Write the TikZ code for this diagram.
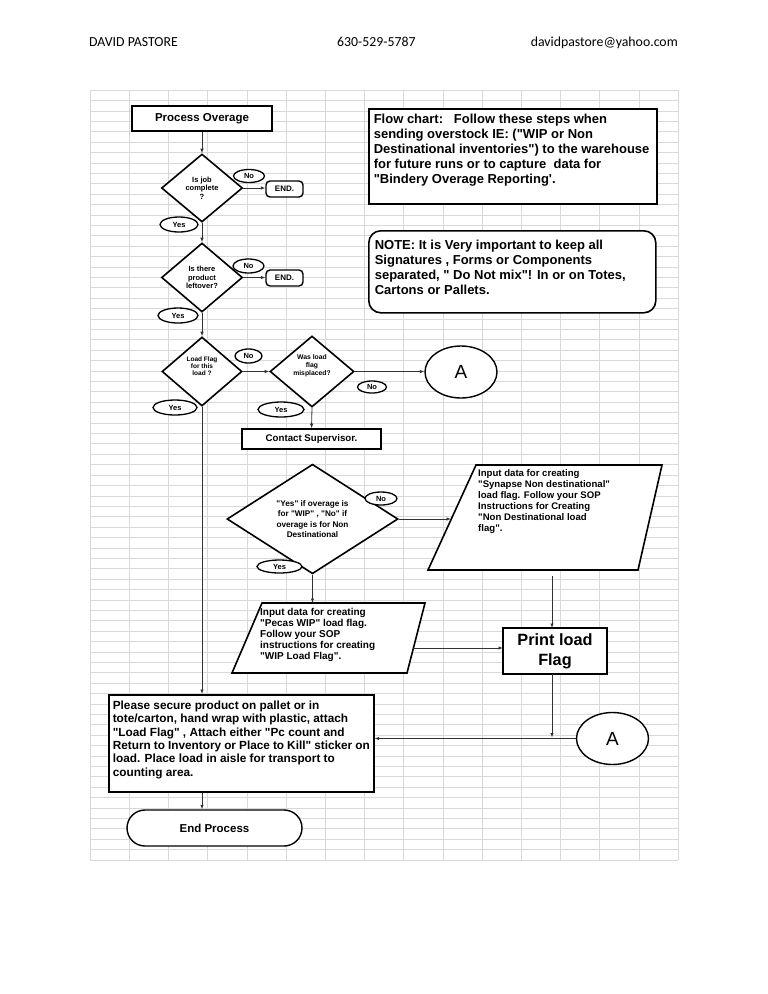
\documentclass[tikz,border=0pt]{standalone}
\usepackage{fontspec}
\setmainfont{Liberation Sans}[Ligatures=TeXOff]
\newfontfamily\hdrfont{Carlito}
\usetikzlibrary{arrows.meta,shapes.geometric}
\tikzset{
  gridc/.style={draw=black!15, line width=0.6pt},
  box/.style={draw, line width=1.6pt, fill=white, inner sep=0pt, rectangle},
  dia/.style={draw, line width=1.6pt, fill=white, diamond, inner sep=0pt, align=center, font=\bfseries\fontsize{7.5}{8.5}\selectfont},
  lbl/.style={draw, line width=1.3pt, fill=white, ellipse, inner sep=0pt, font=\bfseries\fontsize{7.5}{8}\selectfont},
  bigA/.style={draw, line width=1.4pt, fill=white, ellipse, inner sep=0pt, minimum width=72pt, minimum height=52pt, font=\fontsize{19}{19}\selectfont},
  endb/.style={draw, line width=1.4pt, fill=white, rounded corners=4pt, inner sep=0pt, minimum width=37pt, minimum height=16pt, font=\bfseries\fontsize{8}{9}\selectfont},
  conn/.style={draw=black!80, line width=0.8pt, -{Latex[length=4.5pt,width=3.5pt]}},
  hdr/.style={font=\hdrfont\fontsize{13.8}{15}\selectfont, inner sep=0pt, anchor=base west}
}
\begin{document}
\begin{tikzpicture}[x=1pt,y=-1pt]
\useasboundingbox (0,0) rectangle (768,994);
\fill[white] (0,0) rectangle (768,994);
% header
\node[hdr] (h1) at (89,46.5) {DAVID PASTORE};
\node[hdr] (h2) at (337,46.5) {630-529-5787};
\node[hdr, anchor=base east] (h3) at (678,46.5) {davidpastore@yahoo.com};
% spreadsheet grid
\foreach \i in {0,...,15} \draw[gridc] (90+\i*39.2,90) -- (90+\i*39.2,860);
\foreach \j in {0,...,74} \draw[gridc] (90,90+\j*10.405) -- (678,90+\j*10.405);

% top box
\node[box, minimum width=140pt, minimum height=25pt, font=\bfseries\fontsize{11.5}{12}\selectfont] (start) at (202,118.5) {\raisebox{2pt}{Process Overage}};

% info boxes
\node[box, anchor=north west, minimum width=288pt, minimum height=95pt, inner sep=5pt, font=\bfseries\fontsize{13}{15}\selectfont] (info) at (368,108)
 {\parbox[c][85pt][t]{278pt}{\raggedright Flow chart:\ \ \ Follow these steps when\\ sending overstock IE: ("WIP or Non\\ Destinational inventories") to the warehouse\\ for future runs or to capture\ \ data for\\ "Bindery Overage Reporting'.}};
\node[box, rounded corners=12pt, anchor=north west, minimum width=287pt, minimum height=82pt, inner sep=6pt, font=\bfseries\fontsize{13}{15}\selectfont] (note) at (368,230)
 {\parbox[c][70pt][t]{275pt}{\raggedright\vspace*{3pt}NOTE: It is Very important to keep all\\ Signatures , Forms or Components\\ separated, " Do Not mix"! In or on Totes,\\ Cartons or Pallets.}};

% decision 1
\node[dia, minimum width=81pt, minimum height=68pt] (d1) at (202,188) {Is job\\complete\\?};
\node[lbl, minimum width=31pt, minimum height=13pt] (no1) at (249,176) {No};
\node[endb] (end1) at (284.5,189) {END.};
\node[lbl, minimum width=38pt, minimum height=15pt] (yes1) at (179,224.5) {Yes};
% decision 2
\node[dia, minimum width=81pt, minimum height=69pt] (d2) at (202,277.5) {Is there\\product\\leftover?};
\node[lbl, minimum width=31pt, minimum height=14pt] (no2) at (248.5,266) {No};
\node[endb] (end2) at (284.5,278) {END.};
\node[lbl, minimum width=40pt, minimum height=15pt] (yes2) at (178,315.5) {Yes};
% decision 3
\node[dia, minimum width=80pt, minimum height=69pt, font=\bfseries\fontsize{6.5}{7}\selectfont] (d3) at (202,371.5) {Load Flag\\for this\\load ?\\[4pt]};
\node[lbl, minimum width=27pt, minimum height=14pt] (no3) at (248.5,356) {No};
\node[lbl, minimum width=44pt, minimum height=15pt] (yes3) at (175,407.5) {Yes};
% decision 4
\node[dia, minimum width=84pt, minimum height=71pt, font=\bfseries\fontsize{6.8}{8}\selectfont] (d4) at (312,371.5) {Was load\\flag\\misplaced?\\[4pt]};
\node[bigA] (a1) at (461,372) {A};
\node[lbl, minimum width=29pt, minimum height=12pt] (no4) at (372,387) {No};
\node[lbl, minimum width=46pt, minimum height=15pt] (yes4) at (281,409.5) {Yes};
\node[box, minimum width=139pt, minimum height=20pt, font=\bfseries\fontsize{9.7}{10}\selectfont] (sup) at (311.5,439) {Contact Supervisor.};
% decision 5
\node[dia, minimum width=171pt, minimum height=86pt, font=\bfseries\fontsize{8.2}{10.5}\selectfont] (d5) at (312.5,519) {"Yes" if overage is\\for "WIP" , "No" if\\overage is for Non\\Destinational};
\node[lbl, minimum width=32pt, minimum height=13pt] (no5) at (381,498.5) {No};
\node[lbl, minimum width=45pt, minimum height=13pt] (yes5) at (279.5,566.5) {Yes};

% parallelogram: Synapse
\coordinate (s1) at (476,465); \coordinate (s2) at (662,465);
\coordinate (s3) at (638,570); \coordinate (s4) at (428,570);
\draw[line width=1.6pt, fill=white] (s1) -- (s2) -- (s3) -- (s4) -- cycle;
\node[anchor=north west, inner sep=0pt, align=left, font=\bfseries\fontsize{9.6}{11}\selectfont] (syn) at (478,469.5)
 {Input data for creating\\ "Synapse Non destinational"\\ load flag. Follow your SOP\\ Instructions for Creating\\ "Non Destinational load\\ flag".};
\coordinate (sW) at (451,519);
\coordinate (sS) at (552,576);

% parallelogram: Pecas
\coordinate (p1) at (262,603); \coordinate (p2) at (425,603);
\coordinate (p3) at (407,673); \coordinate (p4) at (232,673);
\draw[line width=1.6pt, fill=white] (p1) -- (p2) -- (p3) -- (p4) -- cycle;
\node[anchor=north west, inner sep=0pt, align=left, font=\bfseries\fontsize{10}{10.9}\selectfont] (pec) at (260,608.5)
 {Input data for creating\\ "Pecas WIP" load flag.\\ Follow your SOP\\ instructions for creating\\ "WIP Load Flag".};
\coordinate (pN) at (312.5,603);
\coordinate (pE) at (413,648);

% print
\node[box, minimum width=104pt, minimum height=46pt, align=center, font=\bfseries\fontsize{16.3}{20}\selectfont] (print) at (555,651) {Print load\\Flag};
\coordinate (printW) at (503,648);
\coordinate (printN) at (552,628);
\coordinate (printS) at (552,674);
\node[bigA] (a2) at (612.5,738.5) {A};
\coordinate (join) at (552,737.5);

% final box
\node[box, anchor=north west, minimum width=265pt, minimum height=97pt, inner sep=4pt, font=\bfseries\fontsize{11.8}{13.4}\selectfont] (secure) at (108,694)
 {\parbox[c][89pt][t]{257pt}{\raggedright\vspace*{2pt}Please secure product on pallet or in\\ tote/carton, hand wrap with plastic, attach\\ "Load Flag" , Attach either "Pc count and\\ Return to Inventory or Place to Kill" sticker on\\ load. Place load in aisle for transport to\\ counting area.}};
\coordinate (secN) at (202,694);
\coordinate (secS) at (202,795);
\node[draw, line width=1.4pt, fill=white, rounded corners=18pt, minimum width=175pt, minimum height=36pt, inner sep=0pt, font=\bfseries\fontsize{11.5}{12}\selectfont] (endp) at (214.5,828) {End Process};

% connectors
\draw[conn] (start.south) -- (d1.north);
\draw[conn] (d1.east) -- (d1.east -| end1.west);
\draw[conn] (d1.south) -- (d2.north);
\draw[conn] (d2.east) -- (d2.east -| end2.west);
\draw[conn] (d2.south) -- (d3.north);
\draw[conn] (d3.east) -- (d4.west);
\draw[conn] (d4.east) -- (d4.east -| a1.west);
\draw[conn] (d4.south) -- (sup.north);
\draw[conn] (d3.south) -- (secN);
\draw[conn] (d5.east) -- (sW);
\draw[conn] (d5.south) -- (pN);
\draw[conn] (sS) -- (printN);
\draw[conn] (pE) -- (printW);
\draw[conn] (printS) -- (join);
\draw[conn] (a2.west) -- (secure.east |- a2.west);
\draw[conn] (secure.south -| secS) -- (endp.north -| secS);
\end{tikzpicture}
\end{document}
